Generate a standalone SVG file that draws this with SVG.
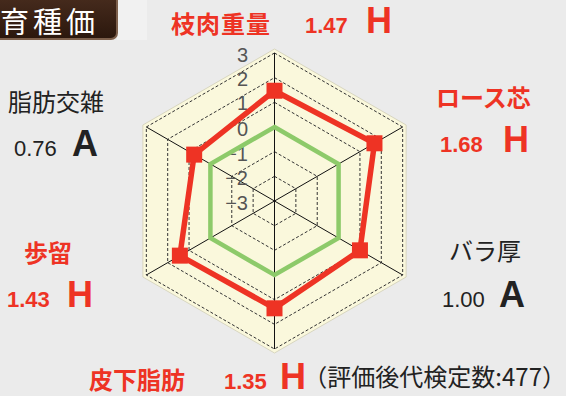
<svg xmlns="http://www.w3.org/2000/svg" width="566" height="396" viewBox="0 0 566 396">
<defs>
<linearGradient id="hdr" x1="0" y1="0" x2="0" y2="1">
<stop offset="0" stop-color="#4a2e1f"/>
<stop offset="1" stop-color="#2b170d"/>
</linearGradient>
</defs>
<style>
.ring{fill:none;stroke:#333;stroke-width:1;stroke-dasharray:3 2}
.spoke{stroke:#111;stroke-width:1}
.scale{font-family:"Liberation Sans",Arial,sans-serif;font-size:20px;fill:#555;text-anchor:end}
.jp{font-family:"Noto Sans CJK JP","Noto Sans",sans-serif;font-size:24px}
.num{font-family:"Liberation Sans",Arial,sans-serif;font-size:22px}
.grade{font-family:"Liberation Sans",Arial,sans-serif;font-size:36px;font-weight:bold}
.red{fill:#ee3324}
.blk{fill:#222}
.b{font-weight:bold}
.mk{fill:#ee3324}
</style>
<rect x="0" y="0" width="566" height="396" fill="#ebebeb"/>
<rect x="117" y="0" width="30" height="40" fill="#f1f1f1"/>

<g id="header">
<rect x="-8" y="-8" width="125" height="47" rx="6" fill="url(#hdr)" stroke="#7d604c" stroke-width="2"/>
<text x="0" y="33" font-family="'Noto Sans CJK JP',sans-serif" font-size="29" letter-spacing="4" fill="#ffffff">育種価</text>
</g>

<g id="chart">
<polygon points="274.5,49 406.14,125 406.14,277 274.5,353 142.86,277 142.86,125" fill="#faf8dc" stroke="#d8d6c0" stroke-width="1"/>
<polygon class="ring" points="274.5,176.33 295.86,188.67 295.86,213.33 274.5,225.67 253.14,213.33 253.14,188.67"/>
<polygon class="ring" points="274.5,151.67 317.22,176.33 317.22,225.67 274.5,250.33 231.78,225.67 231.78,176.33"/>
<polygon class="ring" points="274.5,127 338.59,164 338.59,238 274.5,275 210.41,238 210.41,164"/>
<polygon class="ring" points="274.5,102.33 359.95,151.67 359.95,250.33 274.5,299.67 189.05,250.33 189.05,151.67"/>
<polygon class="ring" points="274.5,77.67 381.31,139.33 381.31,262.67 274.5,324.33 167.69,262.67 167.69,139.33"/>
<polygon class="ring" points="274.5,53 402.67,127 402.67,275 274.5,349 146.33,275 146.33,127"/>
<g id="spokes">
<line class="spoke" x1="274.5" y1="201" x2="274.5" y2="53"/>
<line class="spoke" x1="274.5" y1="201" x2="402.67" y2="127"/>
<line class="spoke" x1="274.5" y1="201" x2="402.67" y2="275"/>
<line class="spoke" x1="274.5" y1="201" x2="274.5" y2="349"/>
<line class="spoke" x1="274.5" y1="201" x2="146.33" y2="275"/>
<line class="spoke" x1="274.5" y1="201" x2="146.33" y2="127"/>
</g>
<g id="scale">
<text class="scale" x="248" y="62">3</text>
<text class="scale" x="248" y="86">2</text>
<text class="scale" x="248" y="110">1</text>
<text class="scale" x="248" y="136">0</text>
<text class="scale" x="248" y="161">−1</text>
<text class="scale" x="248" y="185">−2</text>
<text class="scale" x="248" y="210">−3</text>
</g>
<polygon id="average" points="274.5,127 338.59,164 338.59,238 274.5,275 210.41,238 210.41,164" fill="none" stroke="#8dca6a" stroke-width="4.5"/>
<polygon id="values" points="274.5,90.74 374.47,143.28 359.95,250.33 274.5,308.3 179.87,255.64 194.18,154.62" fill="none" stroke="#ee3324" stroke-width="5.5" stroke-linejoin="miter"/>
<g id="markers">
<rect class="mk" x="266.5" y="82.74" width="16" height="16"/>
<rect class="mk" x="366.47" y="135.28" width="16" height="16"/>
<rect class="mk" x="351.95" y="242.33" width="16" height="16"/>
<rect class="mk" x="266.5" y="300.3" width="16" height="16"/>
<rect class="mk" x="171.87" y="247.64" width="16" height="16"/>
<rect class="mk" x="186.18" y="146.62" width="16" height="16"/>
</g>
</g>

<g id="label-edaniku">
<text class="jp red b" x="171" y="33" font-size="25" letter-spacing="1">枝肉重量</text>
<text class="num red b" x="305" y="33" font-size="23">1.47</text>
<text class="grade red" x="366" y="33">H</text>
</g>
<g id="label-rose">
<text class="jp red b" x="436" y="107">ロース芯</text>
<text class="num red b" x="440" y="152" font-size="23">1.68</text>
<text class="grade red" x="503" y="152">H</text>
</g>
<g id="label-bara">
<text class="jp blk" x="449" y="260">バラ厚</text>
<text class="num blk" x="442" y="307">1.00</text>
<text class="grade blk" x="499" y="307">A</text>
</g>
<g id="label-hika">
<text class="jp red b" x="89" y="389" font-size="26">皮下脂肪</text>
<text class="num red b" x="224" y="389" font-size="23">1.35</text>
<text class="grade red" x="280" y="389">H</text>
</g>
<g id="label-budomari">
<text class="jp red b" x="24" y="262">歩留</text>
<text class="num red b" x="7" y="307" font-size="23">1.43</text>
<text class="grade red" x="67" y="307">H</text>
</g>
<g id="label-shibo">
<text class="jp blk" x="8" y="111" font-size="25">脂肪交雑</text>
<text class="num blk" x="14" y="156">0.76</text>
<text class="grade blk" x="72" y="156">A</text>
</g>
<g id="note">
<text class="jp blk" x="566" y="386" font-size="19" text-anchor="end">（評価後代検定数:477）</text>
</g>
</svg>
